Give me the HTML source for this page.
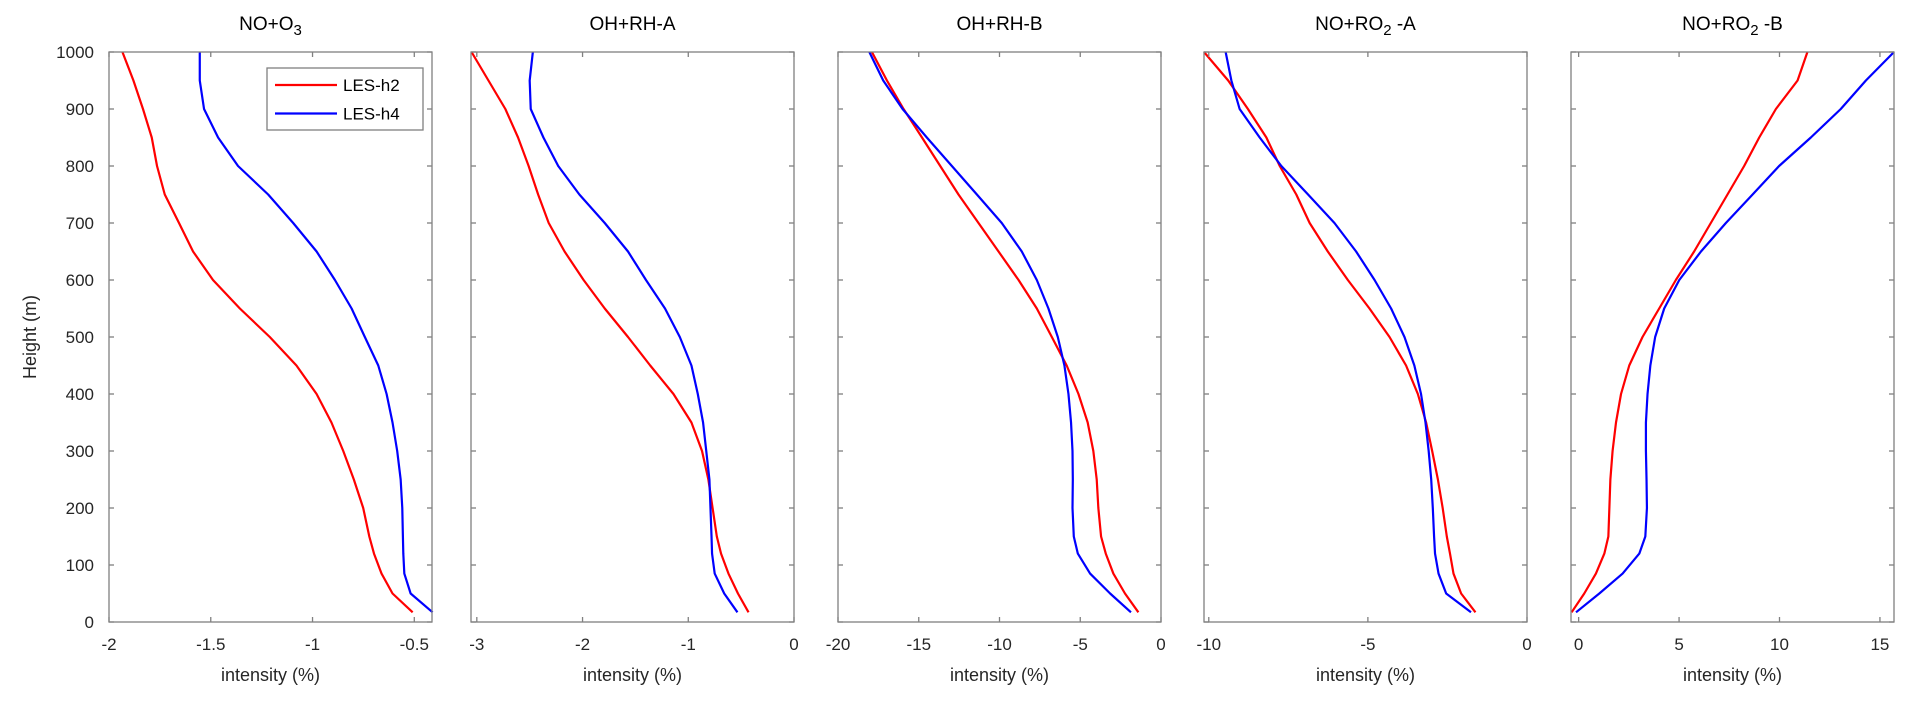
<!DOCTYPE html>
<html><head><meta charset="utf-8"><style>
html,body{margin:0;padding:0;background:#fff;}
svg{display:block;font-family:"Liberation Sans",sans-serif;}
</style></head><body>
<svg id="fig" width="1915" height="705" viewBox="0 0 1915 705" xmlns="http://www.w3.org/2000/svg"></svg>
<script>
const heights = [17,50,85,120,150,200,250,300,350,400,450,500,550,600,650,700,750,800,850,900,950,1000];
const titles = ["NO+O|3|", "OH+RH-A", "OH+RH-B", "NO+RO|2| -A", "NO+RO|2| -B"];
const xlims = [[-2,-0.413],[-3.055,0],[-20,0],[-10.15,0],[-0.38,15.7]];
const xticks = [[-2,-1.5,-1,-0.5],[-3,-2,-1,0],[-20,-15,-10,-5,0],[-10,-5,0],[0,5,10,15]];
const yticks = [0,100,200,300,400,500,600,700,800,900,1000];
const seriesNames = ["LES-h2","LES-h4"];
const p1h2 = [-0.508,-0.607,-0.661,-0.698,-0.721,-0.751,-0.797,-0.849,-0.907,-0.98,-1.079,-1.21,-1.357,-1.489,-1.587,-1.656,-1.726,-1.764,-1.79,-1.833,-1.88,-1.934];
const p1h4 = [-0.41,-0.518,-0.549,-0.554,-0.556,-0.559,-0.567,-0.584,-0.607,-0.636,-0.677,-0.743,-0.808,-0.89,-0.98,-1.095,-1.218,-1.366,-1.464,-1.533,-1.554,-1.554];
const p2h2 = [-0.43,-0.53,-0.62,-0.69,-0.73,-0.77,-0.81,-0.87,-0.97,-1.14,-1.36,-1.57,-1.79,-1.99,-2.17,-2.32,-2.42,-2.51,-2.61,-2.73,-2.89,-3.05];
const p2h4 = [-0.535,-0.66,-0.75,-0.775,-0.78,-0.79,-0.80,-0.83,-0.86,-0.91,-0.97,-1.08,-1.22,-1.40,-1.57,-1.79,-2.03,-2.23,-2.37,-2.49,-2.50,-2.47];
const p3h2 = [-1.4,-2.23,-2.95,-3.42,-3.71,-3.88,-3.98,-4.19,-4.54,-5.11,-5.84,-6.76,-7.69,-8.82,-10.06,-11.3,-12.54,-13.67,-14.8,-15.94,-16.97,-17.9];
const p3h4 = [-1.86,-3.15,-4.39,-5.15,-5.4,-5.48,-5.46,-5.48,-5.57,-5.73,-5.98,-6.39,-6.97,-7.69,-8.62,-9.86,-11.4,-12.95,-14.5,-16.0,-17.2,-18.06];
const p4h2 = [-1.62,-2.07,-2.31,-2.42,-2.52,-2.65,-2.80,-2.98,-3.17,-3.43,-3.80,-4.32,-4.95,-5.63,-6.26,-6.83,-7.25,-7.77,-8.19,-8.77,-9.39,-10.15];
const p4h4 = [-1.76,-2.54,-2.78,-2.89,-2.92,-2.96,-3.01,-3.09,-3.19,-3.33,-3.54,-3.85,-4.27,-4.79,-5.37,-6.05,-6.88,-7.72,-8.40,-9.03,-9.29,-9.47];
const p5h2 = [-0.35,0.28,0.86,1.28,1.48,1.53,1.58,1.69,1.86,2.11,2.52,3.18,4.01,4.84,5.75,6.58,7.41,8.24,8.99,9.82,10.9,11.39];
const p5h4 = [-0.13,1.03,2.19,3.02,3.32,3.40,3.38,3.35,3.35,3.43,3.57,3.81,4.26,5.01,6.09,7.33,8.66,9.98,11.56,13.05,14.3,15.7];
const h2Series = [p1h2,p2h2,p3h2,p4h2,p5h2];
const h4Series = [p1h4,p2h4,p3h4,p4h4,p5h4];

const NS = "http://www.w3.org/2000/svg";
const svgEl = document.getElementById('fig');
const panelLeft = [109,471,838,1204,1571];
const panelW = 323, topY = 52, bottomY = 622;
const colors = ["#ff0000","#0000ff"];
function mk(tag, attrs, parent){const e=document.createElementNS(NS,tag);for(const k in attrs)e.setAttribute(k,attrs[k]);(parent||svgEl).appendChild(e);return e;}
function yScale(h){return bottomY-(h/1000)*(bottomY-topY);}

for(let p=0;p<5;p++){
  const L=panelLeft[p], R=L+panelW, lim=xlims[p];
  const xs = v => L+(v-lim[0])/(lim[1]-lim[0])*panelW;
  const g = mk('g',{});
  
  
  const parts = titles[p].split('|');
  const t = mk('text',{x:L+panelW/2,y:30,'text-anchor':'middle','font-size':19,fill:'#000'},g);
  
  
  parts.forEach((s,i)=>{ if(!s) return; const ts=mk('tspan',{},t); ts.textContent=s; if(i===1){ts.setAttribute('baseline-shift','-30%');ts.setAttribute('font-size',15);} });
  [h2Series[p],h4Series[p]].forEach((arr,si)=>{
    const d = arr.map((v,i)=>(i?'L':'M')+xs(v).toFixed(2)+','+yScale(heights[i]).toFixed(2)).join(' ');
    const path = mk('path',{d:d,fill:'none',stroke:colors[si],'stroke-width':2.2,'stroke-linejoin':'round'},g);
    
    
  });
  const box = mk('rect',{x:L,y:topY,width:panelW,height:bottomY-topY,fill:'none',stroke:'#808080','stroke-width':1.3},g);
  
  
  xticks[p].forEach(v=>{
    const x=xs(v);
    mk('line',{x1:x,x2:x,y1:bottomY,y2:bottomY-5,stroke:'#808080','stroke-width':1.3},g);
    mk('line',{x1:x,x2:x,y1:topY,y2:topY+5,stroke:'#808080','stroke-width':1.3},g);
    const tl = mk('text',{x:x,y:650,'text-anchor':'middle','font-size':17,fill:'#262626'},g);
    
    
    tl.textContent=String(v);
  });
  yticks.forEach(v=>{
    const y=yScale(v);
    mk('line',{x1:L,x2:L+5,y1:y,y2:y,stroke:'#808080','stroke-width':1.3},g);
    mk('line',{x1:R,x2:R-5,y1:y,y2:y,stroke:'#808080','stroke-width':1.3},g);
    if(p===0){
      const yl = mk('text',{x:94,y:y+6,'text-anchor':'end','font-size':17,fill:'#262626'},g);
      
      
      yl.textContent=String(v);
    }
  });
  const xl = mk('text',{x:L+panelW/2,y:681,'text-anchor':'middle','font-size':18,fill:'#262626'},g);
  
  
  xl.textContent='intensity (%)';
}
const yt = mk('text',{x:0,y:0,'text-anchor':'middle','font-size':18,fill:'#262626',transform:'translate(36,337) rotate(-90)'});


yt.textContent='Height (m)';
const lg = mk('g',{});


mk('rect',{x:267,y:68,width:156,height:62,fill:'#fff',stroke:'#808080','stroke-width':1.3},lg);
seriesNames.forEach((n,i)=>{
  const y = 85+i*28.5;
  const e = mk('g',{},lg);
  
  
  mk('line',{x1:275,x2:337,y1:y,y2:y,stroke:colors[i],'stroke-width':2.2},e);
  const tx = mk('text',{x:343,y:y+6,'font-size':17,fill:'#000'},e);
  tx.textContent=n;
});
</script>
</body></html>
